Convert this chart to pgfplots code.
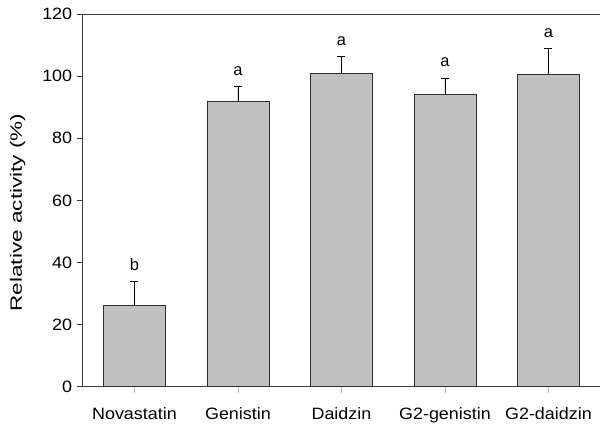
\documentclass[border=0pt]{standalone}
\usepackage{fontspec}
\setmainfont{Liberation Sans}
\usepackage{pgfplots}
\pgfplotsset{compat=1.18}

\definecolor{barfill}{HTML}{C0C0C0}
\definecolor{baredge}{HTML}{2E2E2E}
\definecolor{axisline}{HTML}{3A3A3A}

\newcommand{\lbl}[1]{\scalebox{1.09}[1]{#1}}

\begin{document}
\begin{tikzpicture}
\begin{axis}[
    name=main,
    scale only axis,
    width=517.5bp, height=372.7bp,
    xmin=-0.5, xmax=4.5,
    ymin=0, ymax=120,
    ytick={0,20,...,120},
    xtick=data,
    xticklabels={\lbl{Novastatin},\lbl{Genistin},\lbl{Daidzin},\lbl{G2-genistin},\lbl{G2-daidzin}},
    yticklabel={\lbl{\pgfmathprintnumber{\tick}}},
    axis lines*=left,
    axis line style={-, axisline, line width=0.8bp},
    tick align=outside,
    major tick length=6bp,
    y tick style={axisline, line width=0.8bp},
    x tick style={black!25, line width=0.6bp},
    ticklabel style={font=\fontsize{16.5}{19}\selectfont},
    /pgf/number format/assume math mode=true,
    xticklabel style={yshift=-11bp},
    yticklabel style={xshift=-1bp},
    ylabel={\scalebox{1.37}[1]{Relative activity (\%)}},
    ylabel style={font=\fontsize{16.5}{19}\selectfont,
        at={(axis description cs:-0.1256,0.4674)}, anchor=center},
    clip=false,
]
\addplot[ybar, bar width=0.6, fill=barfill, draw=baredge, line width=0.8bp,
    error bars/.cd, y dir=plus, y explicit,
    error bar style={line width=0.8bp, black},
    error mark options={rotate=90, mark size=4bp, line width=0.8bp, black}]
coordinates {
    (0,26.1) +- (0,7.7)
    (1,91.8) +- (0,4.9)
    (2,100.9) +- (0,5.4)
    (3,94.2) +- (0,5.2)
    (4,100.6) +- (0,8.3)
};
% significance letters above the error bars
\addplot[draw=none, mark=none,
    nodes near coords, point meta=explicit symbolic,
    every node near coord/.append style={anchor=base, yshift=11bp,
        font=\fontsize{16.5}{19}\selectfont, inner sep=0pt}]
coordinates {
    (0,33.8) [b]
    (1,96.7) [a]
    (2,106.3) [a]
    (3,99.4) [a]
    (4,108.9) [a]
};
\draw[axisline, line width=0.8bp] (rel axis cs:0,1) -- (rel axis cs:1,1);
\end{axis}
\pgfresetboundingbox
\path (main.south west) ++(-82.7bp,-39.3bp) rectangle ++(600bp,426bp);
\end{tikzpicture}
\end{document}
